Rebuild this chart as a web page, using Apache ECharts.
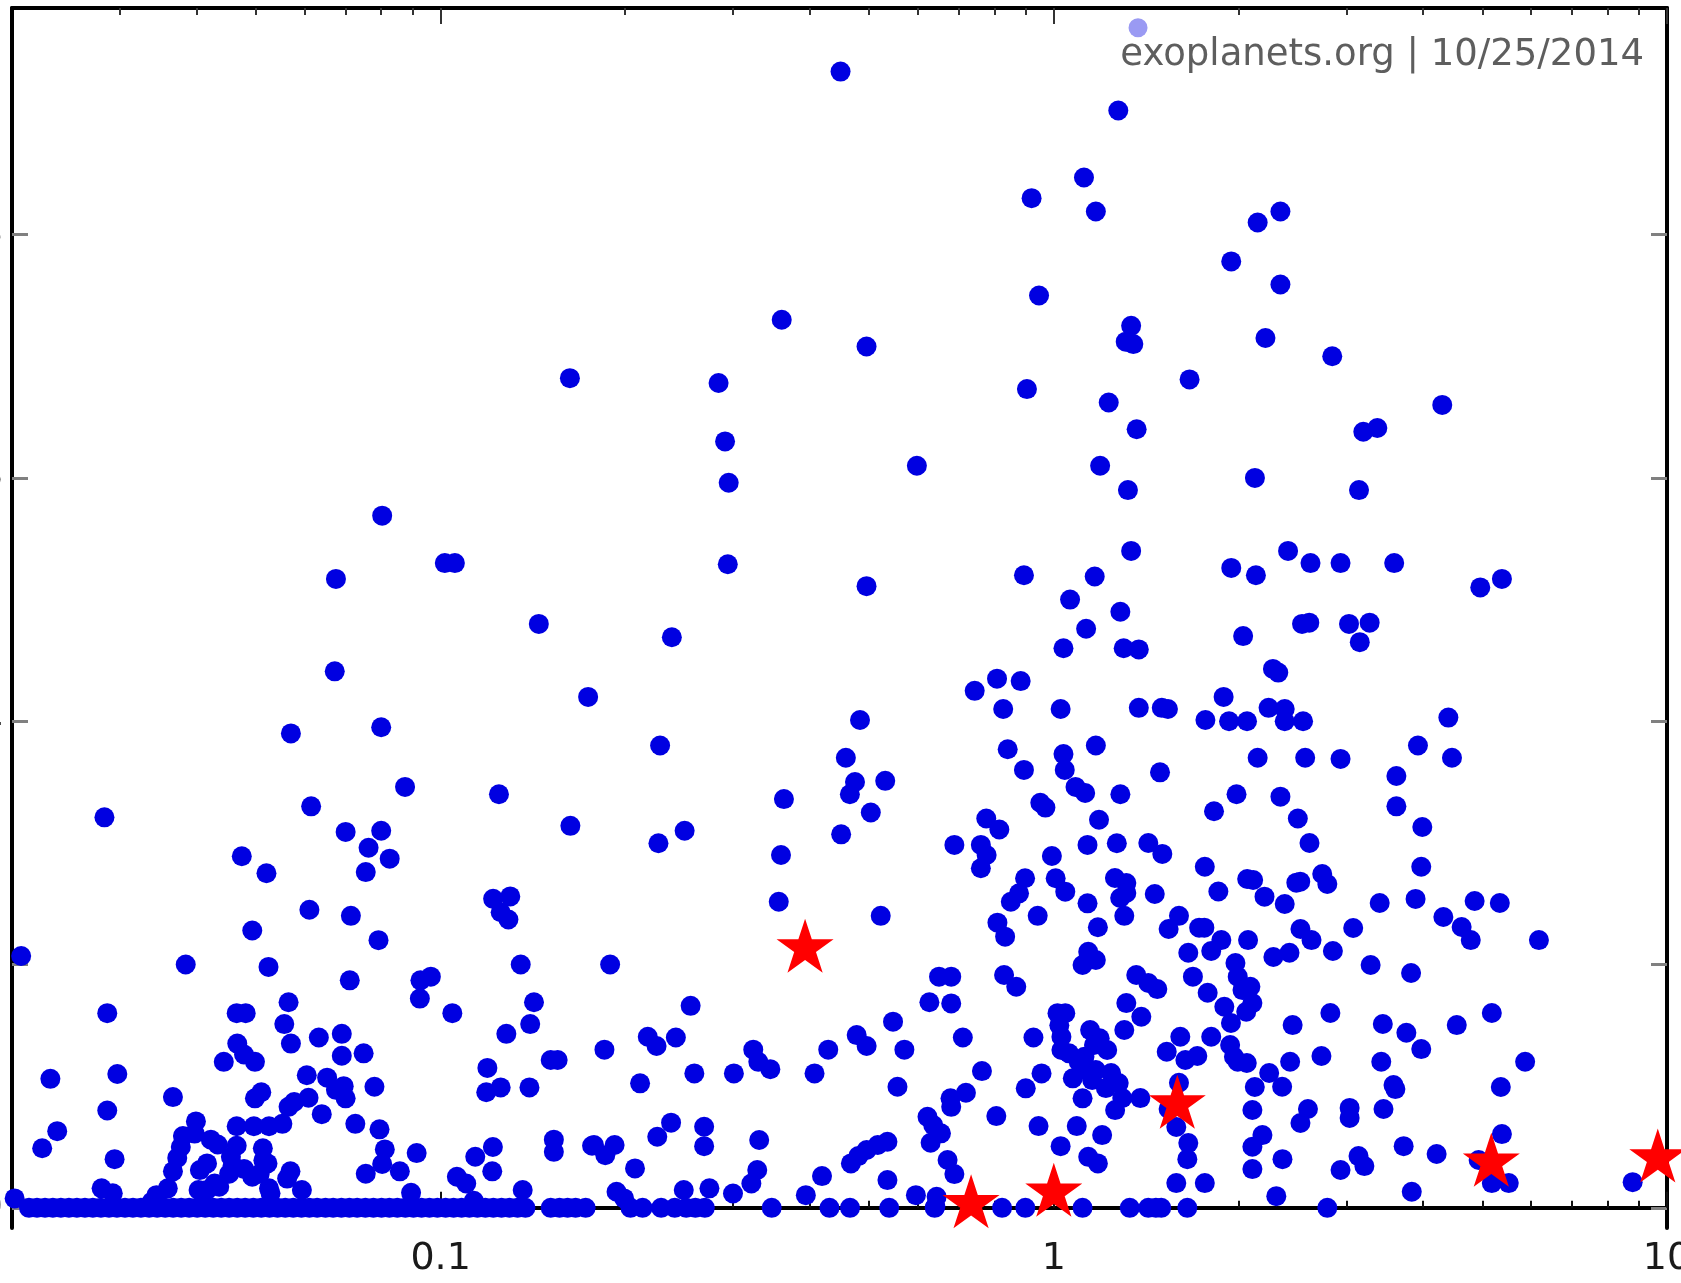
<!DOCTYPE html>
<html><head><meta charset="utf-8">
<script src="https://cdn.jsdelivr.net/npm/echarts@6/dist/echarts.min.js"></script>
<style>html,body{margin:0;padding:0;background:#fff}#chart{width:1681px;height:1283px}</style>
</head><body><div id="chart"></div>
<script>
// Axis ticks / labels
const xTickValues = [0.1, 1, 10];
const xTickLabels = ['0.1', '1', '10'];
const xMinorTicks = [0.03,0.04,0.05,0.06,0.07,0.08,0.09,0.2,0.3,0.4,0.5,0.6,0.7,0.8,0.9,2,3,4,5,6,7,8,9];
const yTickValues = [0, 0.2, 0.4, 0.6, 0.8];
const yTickLabels = ['0', '0.2', '0.4', '0.6', '0.8'];
const watermarkText = 'exoplanets.org | 10/25/2014';

// [semi-major axis (AU), eccentricity]
const planetsHighE = [[0.449,0.934],[1.274,0.902],[1.12,0.847],[0.92,0.83],[1.171,0.819],[2.342,0.819],[2.15,0.81],[1.947,0.778],[2.342,0.759],[0.946,0.75],[0.36,0.73],[2.214,0.715],[1.337,0.725],[1.31,0.712],[1.348,0.71],[0.495,0.708],[2.845,0.7],[0.1625,0.682],[0.284,0.678],[1.665,0.681],[0.904,0.673],[4.3,0.66],[1.229,0.662],[1.365,0.64],[3.197,0.638],[3.37,0.641],[0.291,0.63],[0.598,0.61],[1.19,0.61],[2.128,0.6],[0.295,0.596],[1.321,0.59],[3.146,0.59],[0.0803,0.569],[2.41,0.54],[1.337,0.54],[0.1016,0.53],[0.1055,0.53],[0.294,0.529],[1.947,0.526],[2.136,0.52],[2.622,0.53],[2.935,0.53],[3.59,0.53],[0.0675,0.517],[1.166,0.519],[0.894,0.52],[4.96,0.51],[5.38,0.517],[0.495,0.511],[1.063,0.5],[1.284,0.49],[0.1446,0.48],[1.129,0.476],[2.54,0.48],[2.61,0.481],[3.03,0.48],[3.274,0.481],[3.155,0.465],[0.2383,0.469],[2.036,0.47],[1.037,0.46],[1.3,0.46],[1.376,0.459],[0.0672,0.441],[2.277,0.443],[2.323,0.44],[0.808,0.435],[0.883,0.433],[0.743,0.425],[0.174,0.42],[1.892,0.42],[0.827,0.41],[1.026,0.41],[1.376,0.411],[1.5,0.411],[1.535,0.41],[1.767,0.401],[1.931,0.4],[2.066,0.4],[2.24,0.411],[2.38,0.41],[2.55,0.4],[2.38,0.4],[4.4,0.403],[0.483,0.401],[0.057,0.39],[0.08,0.395],[0.228,0.38],[1.171,0.38],[0.841,0.377],[0.458,0.37],[2.15,0.37],[2.57,0.37],[2.935,0.369],[3.925,0.38],[4.46,0.37],[1.037,0.373],[1.042,0.36],[0.894,0.36],[1.49,0.358],[0.474,0.35],[0.531,0.351],[0.465,0.34],[3.62,0.355],[1.085,0.346],[1.125,0.341],[0.0875,0.346],[0.1245,0.34],[1.284,0.34],[1.986,0.34],[2.342,0.338],[0.363,0.336],[0.9506,0.333],[0.969,0.329],[0.0615,0.33],[3.62,0.33],[1.825,0.326],[0.503,0.325],[1.185,0.319],[0.776,0.32],[2.5,0.32],[0.0283,0.321],[0.07,0.309],[0.08,0.31],[0.1628,0.314],[0.25,0.31],[0.45,0.307],[0.815,0.311],[3.99,0.313]];

const planetsLowInner = [[0.0474,0.289],[0.052,0.275],[0.0763,0.296],[0.0826,0.287],[0.0755,0.276],[0.1218,0.254],[0.1299,0.256],[0.1253,0.243],[0.129,0.237],[0.0611,0.245],[0.0714,0.24],[0.0493,0.228],[0.0792,0.22],[0.0207,0.207],[0.0384,0.2],[0.0524,0.198],[0.1351,0.2],[0.0711,0.187],[0.0927,0.187],[0.0964,0.19],[0.0925,0.172],[0.1045,0.16],[0.142,0.169],[0.14,0.151],[0.128,0.143],[0.0286,0.16],[0.0565,0.169],[0.0556,0.151],[0.057,0.135],[0.0465,0.16],[0.0481,0.16],[0.0466,0.135],[0.0478,0.126],[0.0498,0.12],[0.0443,0.12],[0.0633,0.14],[0.069,0.143],[0.069,0.125],[0.0749,0.127],[0.0605,0.109],[0.0653,0.107],[0.0695,0.1],[0.07,0.09],[0.0675,0.097],[0.078,0.0995],[0.1192,0.115],[0.1187,0.095],[0.1253,0.099],[0.1396,0.099],[0.0231,0.106],[0.0297,0.11],[0.0366,0.091],[0.0286,0.08],[0.0237,0.063],[0.0224,0.049],[0.0294,0.04],[0.0609,0.0905],[0.064,0.077],[0.0498,0.09],[0.051,0.095],[0.0565,0.083],[0.0577,0.087],[0.0552,0.069],[0.0525,0.067],[0.0496,0.067],[0.0465,0.067],[0.0726,0.069],[0.0795,0.0645],[0.0811,0.048],[0.0803,0.036],[0.0858,0.03],[0.0755,0.028],[0.0914,0.045],[0.1139,0.042],[0.1217,0.05],[0.1214,0.03],[0.1063,0.0255],[0.1101,0.02],[0.153,0.056],[0.153,0.046],[0.1766,0.051],[0.1512,0.1215],[0.1552,0.1215],[0.1361,0.0146],[0.0895,0.0123],[0.1133,0.0058],[0.0399,0.071],[0.0397,0.061],[0.038,0.059],[0.0377,0.05],[0.0372,0.041],[0.0366,0.03],[0.0359,0.016],[0.0344,0.0104],[0.0338,0.005],[0.0422,0.056],[0.0433,0.052],[0.0465,0.051],[0.0416,0.0365],[0.0405,0.031],[0.0455,0.042],[0.0458,0.035],[0.0452,0.028],[0.0478,0.032],[0.0493,0.0255],[0.0507,0.028],[0.0514,0.039],[0.0522,0.0365],[0.0513,0.049],[0.0403,0.0146],[0.0416,0.0146],[0.0428,0.02],[0.04355,0.0173],[0.0525,0.016],[0.0528,0.012],[0.0569,0.03],[0.0562,0.024],[0.0594,0.0146],[0.0202,0.0077],[0.028,0.016],[0.0292,0.012]];

const planetsLowMiddle = [[0.2266,0.2997],[0.359,0.29],[0.356,0.2516],[0.5221,0.24],[0.189,0.2],[0.2557,0.166],[0.2177,0.1406],[0.225,0.133],[0.2419,0.14],[0.185,0.13],[0.3235,0.13],[0.3297,0.12],[0.3449,0.114],[0.3008,0.1105],[0.2593,0.1105],[0.2115,0.1023],[0.4072,0.1105],[0.4287,0.13],[0.477,0.142],[0.4952,0.133],[0.5468,0.153],[0.5706,0.13],[0.556,0.0995],[0.7106,0.14],[0.6268,0.169],[0.6803,0.168],[0.6499,0.19],[0.6803,0.19],[0.7635,0.1124],[0.7189,0.0946],[0.6785,0.09],[0.6803,0.083],[0.8059,0.0754],[0.8297,0.1914],[0.8685,0.1817],[0.8092,0.2344],[0.8329,0.2229],[0.9413,0.24],[0.851,0.2516],[0.8775,0.2585],[0.8977,0.2709],[0.9929,0.2892],[0.7604,0.2983],[0.777,0.29],[0.7604,0.2791],[0.6884,0.2983],[1.007,0.2709],[1.044,0.2599],[1.135,0.2503],[1.18,0.2306],[1.138,0.2105],[1.171,0.2037],[1.114,0.1996],[1.135,0.2983],[0.9264,0.14],[1.014,0.16],[1.044,0.16],[1.021,0.15],[1.029,0.1406],[1.029,0.1297],[0.955,0.1105],[0.9,0.0982],[1.074,0.1064],[1.13,0.1132],[1.171,0.1132],[1.155,0.105],[1.146,0.1461],[1.188,0.1393],[1.163,0.1338],[1.122,0.1242],[1.098,0.1201],[1.059,0.127],[1.114,0.09],[0.9443,0.0672],[1.09,0.0672],[1.026,0.0507],[1.138,0.0419],[1.18,0.0365],[0.6223,0.0748],[0.6358,0.068],[0.6546,0.0612],[0.6297,0.0535],[0.6711,0.0393],[0.6884,0.0277],[0.4668,0.0365],[0.48,0.0425],[0.4952,0.0475],[0.5163,0.0516],[0.5354,0.0543],[0.5354,0.0228],[0.5958,0.0104],[0.644,0.009],[0.641,0.001],[0.4188,0.0261],[0.3941,0.0104],[0.3308,0.0557],[0.3284,0.0311],[0.3212,0.02],[0.2998,0.0118],[0.2744,0.016],[0.269,0.0666],[0.269,0.0507],[0.2376,0.07],[0.2256,0.0584],[0.1779,0.0516],[0.1856,0.0433],[0.1922,0.0516],[0.2075,0.0324],[0.1936,0.0132],[0.1992,0.0077],[0.2492,0.0146]];

const planetsLowOuter = [[1.267,0.2997],[1.426,0.2999],[1.503,0.2909],[2.612,0.2999],[1.763,0.2804],[3.974,0.2804],[1.258,0.2711],[1.313,0.267],[1.313,0.2588],[1.283,0.2547],[1.461,0.258],[1.855,0.26],[2.067,0.2703],[2.114,0.2695],[2.206,0.2558],[2.38,0.2497],[2.486,0.2673],[2.523,0.2681],[2.74,0.2744],[2.793,0.2662],[3.4,0.2506],[3.89,0.2539],[4.856,0.2522],[5.338,0.2506],[6.182,0.2201],[1.303,0.24],[1.539,0.2292],[1.6,0.24],[1.726,0.2303],[1.76,0.2303],[1.876,0.2201],[1.806,0.2111],[1.657,0.2097],[2.074,0.2201],[2.281,0.2062],[2.423,0.2097],[2.525,0.2292],[2.632,0.2201],[2.852,0.2111],[3.078,0.23],[3.286,0.1996],[3.825,0.193],[4.318,0.2391],[4.625,0.2308],[4.786,0.2201],[1.363,0.1914],[1.426,0.1848],[1.475,0.1798],[1.686,0.19],[1.782,0.1768],[1.978,0.2012],[1.995,0.19],[2.031,0.179],[2.092,0.1817],[2.108,0.1683],[2.06,0.1612],[1.897,0.1653],[1.945,0.1519],[1.313,0.1683],[1.389,0.1571],[1.303,0.1462],[1.222,0.1297],[1.608,0.1406],[1.528,0.1283],[1.806,0.1406],[1.939,0.1338],[1.995,0.1201],[2.064,0.119],[1.967,0.1242],[1.639,0.1215],[1.714,0.1248],[2.452,0.1502],[2.825,0.1601],[3.44,0.1511],[3.758,0.1439],[3.974,0.1305],[4.541,0.1502],[5.18,0.1601],[2.429,0.1201],[2.732,0.1248],[3.42,0.1201],[5.87,0.1201],[1.24,0.1108],[1.276,0.1025],[1.216,0.0984],[1.293,0.0902],[1.259,0.0803],[1.384,0.0902],[1.6,0.1028],[1.539,0.0812],[1.584,0.0664],[2.127,0.0993],[2.245,0.1108],[2.357,0.0995],[2.108,0.0804],[2.597,0.0812],[2.525,0.0697],[3.037,0.0821],[3.037,0.0739],[3.449,0.0812],[3.581,0.1009],[3.606,0.0976],[5.358,0.0993],[1.199,0.0598],[1.657,0.0532],[1.651,0.04],[2.189,0.0598],[2.108,0.0502],[2.36,0.04],[2.108,0.0318],[2.935,0.0311],[3.14,0.0425],[3.21,0.0343],[3.72,0.0507],[4.21,0.0442],[5.38,0.0606],[1.584,0.0203],[1.763,0.0203],[2.306,0.0096],[3.835,0.0132],[4.93,0.0393],[5.18,0.0203],[5.52,0.0203],[8.79,0.0211]];

// planets on circular orbits (e = 0): semi-major axes
const circularOrbitA = [0.02132,0.02197,0.02264,0.02332,0.02403,0.02477,0.02552,0.0263,0.0271,0.02793,0.02879,0.02966,0.03057,0.0315,0.03246,0.03347,0.03449,0.03555,0.03663,0.03775,0.0389,0.04009,0.04131,0.04258,0.04388,0.0452,0.0466,0.048,0.0495,0.051,0.0526,0.0542,0.0558,0.0575,0.0593,0.0611,0.0629,0.0649,0.0668,0.0689,0.071,0.0731,0.0754,0.0777,0.0801,0.0825,0.085,0.0876,0.0903,0.0931,0.0959,0.0988,0.1019,0.105,0.1082,0.1114,0.1148,0.1183,0.1219,0.1257,0.1295,0.1335,0.1375,0.1512,0.1563,0.1611,0.166,0.1724,0.204,0.2135,0.2289,0.2409,0.2515,0.2603,0.2697,0.3467,0.4307,0.4652,0.539,0.6393,0.8234,0.8986,1.114,1.33,1.426,1.467,1.497,1.651,2.793];

// Solar-system planets (stars)
const solarSystem = [[0.393,0.2155],[0.733,0.0053],[1.0,0.0148],[1.59,0.0872],[5.17,0.0395],[9.66,0.0429]];
// faded point behind the watermark
const fadedPlanet = [[1.372,0.970]];

const planetData = planetsHighE.concat(planetsLowInner, planetsLowMiddle, planetsLowOuter, circularOrbitA.map(a => [a, 0]));

const STAR = 'path://M50 0 L61.23 34.55 L97.55 34.55 L68.16 55.9 L79.39 90.45 L50 69.1 L20.61 90.45 L31.84 55.9 L2.45 34.55 L38.77 34.55 Z';

function nearestLabel(vals, labels, v) {
  let best = 0, bd = Infinity;
  vals.forEach((t, i) => { const d = Math.abs(Math.log(t + 1e-9) - Math.log(v + 1e-9)); if (d < bd) { bd = d; best = i; } });
  return labels[best];
}
function yLabel(v) {
  let best = 0, bd = Infinity;
  yTickValues.forEach((t, i) => { const d = Math.abs(t - v); if (d < bd) { bd = d; best = i; } });
  return yTickLabels[best];
}

const X_MIN = 0.02, X_MAX = 10, Y_MIN = -0.0166, Y_MAX = 0.9863;
const FONT = 'DejaVu Sans';

const baseX = { type: 'log', logBase: 10, min: X_MIN, max: X_MAX, gridIndex: 0, splitLine: { show: false }, axisPointer: { show: false } };
const chart = echarts.init(document.getElementById('chart'), null, { renderer: 'canvas' });
chart.setOption({
  animation: false,
  backgroundColor: '#ffffff',
  grid: { left: 12, right: 14, top: 8, bottom: 55, containLabel: false, outerBoundsMode: 'none' },
  xAxis: [
    Object.assign({}, baseX, {
      position: 'bottom',
      axisLine: { show: true, lineStyle: { color: '#000', width: 4 } },
      axisTick: { show: true, inside: true, length: 16, customValues: xTickValues, lineStyle: { color: '#111', width: 2 } },
      axisLabel: { show: true, customValues: xTickValues, margin: 12, fontSize: 38, fontFamily: FONT, color: '#1a1a1a',
        formatter: v => nearestLabel(xTickValues, xTickLabels, v) }
    }),
    Object.assign({}, baseX, {
      position: 'bottom',
      axisLine: { show: false },
      axisTick: { show: true, inside: true, length: 7, customValues: xMinorTicks, lineStyle: { color: '#111', width: 2 } },
      axisLabel: { show: false }
    }),
    Object.assign({}, baseX, {
      position: 'top',
      axisLine: { show: true, lineStyle: { color: '#000', width: 4 } },
      axisTick: { show: true, inside: true, length: 16, customValues: xTickValues, lineStyle: { color: '#333', width: 2 } },
      axisLabel: { show: false }
    }),
    Object.assign({}, baseX, {
      position: 'top',
      axisLine: { show: false },
      axisTick: { show: true, inside: true, length: 7, customValues: xMinorTicks, lineStyle: { color: '#333', width: 2 } },
      axisLabel: { show: false }
    })
  ],
  yAxis: [
    {
      type: 'value', min: Y_MIN, max: Y_MAX, position: 'left', splitLine: { show: false },
      axisLine: { show: true, lineStyle: { color: '#000', width: 4 } },
      axisTick: { show: true, inside: true, length: 16, customValues: yTickValues, lineStyle: { color: '#808080', width: 3 } },
      axisLabel: { show: true, customValues: yTickValues, margin: 9, fontSize: 38, fontFamily: FONT, color: '#1a1a1a', formatter: yLabel }
    },
    {
      type: 'value', min: Y_MIN, max: Y_MAX, position: 'right', splitLine: { show: false },
      axisLine: { show: true, lineStyle: { color: '#000', width: 4 } },
      axisTick: { show: true, inside: true, length: 16, customValues: yTickValues, lineStyle: { color: '#808080', width: 3 } },
      axisLabel: { show: false }
    }
  ],
  series: [
    { name: 'exoplanets', type: 'scatter', xAxisIndex: 0, yAxisIndex: 0, data: planetData, symbol: 'circle', symbolSize: 20,
      itemStyle: { color: '#0000e1', opacity: 1 }, clip: false, z: 2 },
    { name: 'faded', type: 'scatter', xAxisIndex: 0, yAxisIndex: 0, data: fadedPlanet, symbol: 'circle', symbolSize: 19,
      itemStyle: { color: '#9a9af3', opacity: 1 }, clip: false, z: 2 },
    { name: 'solar system', type: 'scatter', xAxisIndex: 0, yAxisIndex: 0, data: solarSystem, symbol: STAR, symbolSize: [57, 54],
      itemStyle: { color: '#ff0000', opacity: 1 }, clip: false, z: 3 }
  ],
  graphic: [
    { type: 'text', x: 1644, y: 55, z: 100,
      style: { text: watermarkText, font: '37px "DejaVu Sans"', fill: '#5e5e5e', align: 'right', verticalAlign: 'middle' } }
  ]
});
</script>
</body></html>
